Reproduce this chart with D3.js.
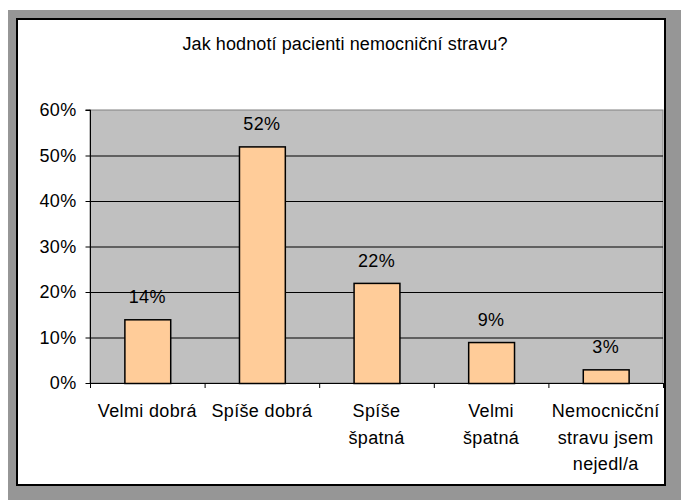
<!DOCTYPE html>
<html><head><meta charset="utf-8">
<script src="https://cdn.jsdelivr.net/npm/d3@7"></script>
<style>body{margin:0;background:#fff}svg{display:block;font-family:"Liberation Sans",Arial,sans-serif}</style>
</head><body><svg id="c" width="683" height="504"></svg>
<script>
const title = "Jak hodnotí pacienti nemocniční stravu?";
const categories = ["Velmi dobrá", "Spíše dobrá", "Spíše\nšpatná", "Velmi\nšpatná", "Nemocnicční\nstravu jsem\nnejedl/a"];
const values = [14, 52, 22, 9, 3];
const yTicks = [0, 10, 20, 30, 40, 50, 60];

const FS = 18, LS = "0.35px";
const svg = d3.select("#c");
svg.append("rect").attr("x", 8).attr("y", 10).attr("width", 673).attr("height", 490).attr("fill", "#969696");
svg.append("rect").attr("x", 17).attr("y", 19).attr("width", 648).attr("height", 466).attr("fill", "#fff").attr("stroke", "#000").attr("stroke-width", 2);

const L = 90, R = 663, T = 110, B = 383;
const x = d3.scaleBand().domain(categories).range([L, R]).paddingInner(0.6).paddingOuter(0.3);
const xb = d3.scaleBand().domain(categories).range([L, R]);
const y = d3.scaleLinear().domain([0, 60]).range([B, T]);

svg.append("rect").attr("x", L).attr("y", T).attr("width", R - L).attr("height", B - T).attr("fill", "#c0c0c0").attr("stroke", "#808080").attr("stroke-width", 1);

svg.append("g").selectAll("line").data(yTicks.filter(d => d > 0 && d < 60)).join("line")
  .attr("x1", L).attr("x2", R).attr("y1", d => y(d) + 0.5).attr("y2", d => y(d) + 0.5).attr("stroke", "#000");

// y axis
const ya = svg.append("g").attr("transform", `translate(${L + 0.5},0)`)
  .call(d3.axisLeft(y).tickValues(yTicks).tickFormat(d => d + "%").tickSize(5).tickPadding(9));
ya.select(".domain").attr("stroke", "#000").attr("d", `M-5,${T}H0V${B}`);
ya.selectAll(".tick line").attr("stroke", "#000");
ya.selectAll(".tick text").attr("font-size", FS).attr("letter-spacing", LS).attr("fill", "#000").attr("font-family", '"Liberation Sans",Arial,sans-serif');

// x axis line and ticks
svg.append("line").attr("x1", L).attr("x2", R).attr("y1", B + 0.5).attr("y2", B + 0.5).attr("stroke", "#000");
const bounds = categories.map(c => xb(c)).concat([R]);
svg.append("g").selectAll("line").data(bounds).join("line")
  .attr("x1", d => d + 0.5).attr("x2", d => d + 0.5).attr("y1", B).attr("y2", B + 5).attr("stroke", "#000");

// bars
svg.append("g").selectAll("rect").data(values).join("rect")
  .attr("x", (d, i) => x(categories[i]) + 0.5)
  .attr("y", d => y(d) + 0.5)
  .attr("width", x.bandwidth())
  .attr("height", d => B - y(d))
  .attr("fill", "#ffcc99").attr("stroke", "#000").attr("stroke-width", 1.5);

// value labels
svg.append("g").selectAll("text").data(values).join("text")
  .attr("x", (d, i) => x(categories[i]) + x.bandwidth() / 2)
  .attr("y", d => y(d) - 16)
  .attr("text-anchor", "middle").attr("font-size", FS).attr("letter-spacing", LS).text(d => d + "%");

// category labels
const cl = svg.append("g").selectAll("text").data(categories).join("text")
  .attr("x", c => xb(c) + xb.bandwidth() / 2)
  .attr("y", 417).attr("text-anchor", "middle").attr("font-size", FS).attr("letter-spacing", LS);
cl.each(function(c) {
  const t = d3.select(this);
  c.split("\n").forEach((line, i) => {
    t.append("tspan").attr("x", xb(c) + xb.bandwidth() / 2).attr("y", 417 + i * 26.5).text(line);
  });
});

svg.append("text").attr("x", 345).attr("y", 50).attr("text-anchor", "middle").attr("font-size", FS).attr("letter-spacing", "0.1px").text(title);
</script></body></html>
